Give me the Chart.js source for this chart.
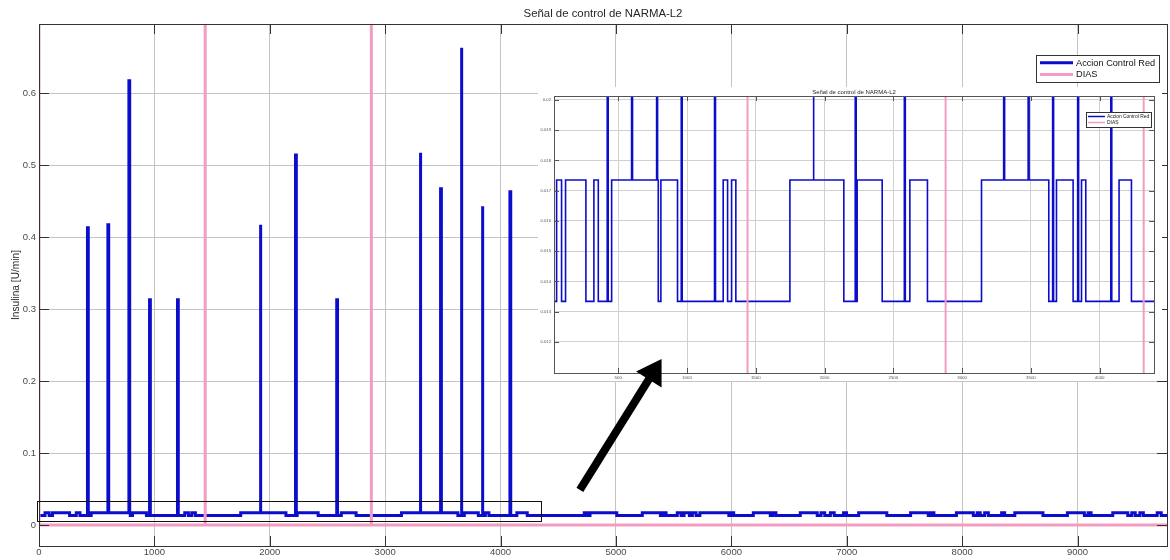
<!DOCTYPE html>
<html>
<head>
<meta charset="utf-8">
<title>Señal de control de NARMA-L2</title>
<script src="https://cdn.jsdelivr.net/npm/chart.js@4.4.0/dist/chart.umd.min.js"></script>
<style>
  body { margin: 0; background: #fff; }
  #wrap { position: relative; width: 1170px; height: 560px; overflow: hidden; }
  #main, #over { position: absolute; left: 0; top: 0; }
  #over { pointer-events: none; }
  #zoomBox { position: absolute; left: 538px; top: 87px; width: 624px; height: 294px; background: #fff; }
</style>
</head>
<body>
<div id="wrap">
  <canvas id="main" width="1170" height="560"></canvas>
  <div id="zoomBox"><canvas id="inset" width="624" height="294"></canvas></div>
  <canvas id="over" width="1170" height="560"></canvas>
</div>
<script>
// basal insulin levels of the controller output
const lowLevel = 0.01334;
const highLevel = 0.01735;

// instants where the basal level flips (starts on the low level)
const levelSwitches = [
  52, 88, 117, 265, 323, 355, 452, 791, 810, 931, 1263, 1295, 1324, 1355,
  1748, 2140, 2237, 2419, 2620, 2748, 3141, 3630, 3686, 3807, 3868, 3899,
  4141, 4231,
  4725, 4750, 4775, 5007, 5228, 5385, 5408, 5434, 5531, 5564, 5590, 5636,
  5662, 5694, 5727, 5978, 6001, 6020, 6190, 6337, 6359, 6386, 6597, 6744,
  6777, 6809, 6858, 6891, 6972, 6998, 7103, 7347, 7553, 7706, 7729, 7755,
  7950, 8097, 8130, 8156, 8195, 8227, 8342, 8368, 8456, 8700, 8912, 9059,
  9091, 9117, 9305, 9435, 9470, 9500, 9540, 9570, 9690, 9725
];

// bolus spikes: time and peak value
const doseTimes = [420, 597, 779, 958, 1200, 1916, 2223, 2580, 3302, 3480, 3658, 3840, 4081];
const dosePeaks = [0.413, 0.417, 0.617, 0.313, 0.313, 0.417, 0.514, 0.313, 0.517, 0.467, 0.663, 0.443, 0.463];
const doseWidth = 7;

// day markers
const daysMain = [0, 1440, 2880];
const daysZoom = [1440, 2880, 4320];
const dayPulse = 1;
const endTime = 9775;

// axis ticks
const xTicksMain = [0, 1000, 2000, 3000, 4000, 5000, 6000, 7000, 8000, 9000];
const yTicksMain = [0, 0.1, 0.2, 0.3, 0.4, 0.5, 0.6];
const xTicksZoom = [500, 1000, 1500, 2000, 2500, 3000, 3500, 4000];
const yTicksZoom = [0.012, 0.013, 0.014, 0.015, 0.016, 0.017, 0.018, 0.019, 0.02];

const BLUE = '#0c0ccc';
const PINK = '#f29cc2';
const FONT = '"Liberation Sans", Arial, sans-serif';

function buildControl() {
  const events = [];
  levelSwitches.forEach(t => events.push({ t, kind: 'switch' }));
  doseTimes.forEach((t, i) => events.push({ t, kind: 'dose', peak: dosePeaks[i] }));
  events.sort((a, b) => a.t - b.t);
  let level = lowLevel;
  const pts = [{ x: 0, y: level }];
  events.forEach(e => {
    if (e.kind === 'switch') {
      const next = level === lowLevel ? highLevel : lowLevel;
      pts.push({ x: e.t, y: level }, { x: e.t, y: next });
      level = next;
    } else {
      pts.push({ x: e.t, y: level }, { x: e.t, y: e.peak },
               { x: e.t + doseWidth, y: e.peak }, { x: e.t + doseWidth, y: level });
    }
  });
  pts.push({ x: endTime, y: level });
  return pts;
}

function buildDays(marks) {
  const pts = [];
  marks.forEach(m => pts.push({ x: m, y: 0 }, { x: m, y: dayPulse }, { x: m, y: 0 }));
  pts.push({ x: endTime, y: 0 });
  return pts;
}

// axes box with inward ticks, matlab style
const frameTicks = {
  id: 'frameTicks',
  afterDatasetsDraw(chart, args, o) {
    const { ctx, chartArea: a } = chart;
    const sx = chart.scales.x, sy = chart.scales.y;
    ctx.save();
    ctx.strokeStyle = o.color;
    ctx.lineWidth = 1;
    ctx.beginPath();
    sx.ticks.forEach(t => {
      const px = Math.round(sx.getPixelForValue(t.value)) + 0.5;
      ctx.moveTo(px, a.bottom); ctx.lineTo(px, a.bottom - o.len);
      ctx.moveTo(px, a.top); ctx.lineTo(px, a.top + o.len);
    });
    sy.ticks.forEach(t => {
      const py = Math.round(sy.getPixelForValue(t.value)) + 0.5;
      ctx.moveTo(a.left, py); ctx.lineTo(a.left + o.len, py);
      ctx.moveTo(a.right, py); ctx.lineTo(a.right - o.len, py);
    });
    ctx.stroke();
    ctx.strokeRect(Math.round(a.left) + 0.5, Math.round(a.top) + 0.5,
                   Math.round(a.right - a.left), Math.round(a.bottom - a.top));
    ctx.restore();
  }
};

// legend drawn as a framed box inside the plot, top right
const boxLegend = {
  id: 'boxLegend',
  afterDraw(chart, args, o) {
    const { ctx, chartArea: a } = chart;
    const ds = chart.data.datasets;
    ctx.save();
    ctx.font = o.size + 'px ' + FONT;
    const textW = Math.max(...ds.map(d => ctx.measureText(d.label).width));
    const w = o.padX * 2 + o.lineLen + o.gap + textW;
    const h = o.padY * 2 + ds.length * o.rowH;
    const x = Math.round(a.right - o.right - w), y = Math.round(a.top + o.top);
    ctx.fillStyle = '#fff';
    ctx.fillRect(x, y, w, h);
    ctx.strokeStyle = '#333';
    ctx.lineWidth = 1;
    ctx.strokeRect(x + 0.5, y + 0.5, Math.round(w), Math.round(h));
    ds.forEach((d, i) => {
      const cy = y + o.padY + o.rowH * (i + 0.5);
      ctx.strokeStyle = d.borderColor;
      ctx.lineWidth = o.lineW;
      ctx.beginPath();
      ctx.moveTo(x + o.padX, cy);
      ctx.lineTo(x + o.padX + o.lineLen, cy);
      ctx.stroke();
      ctx.fillStyle = '#111';
      ctx.textBaseline = 'middle';
      ctx.fillText(d.label, x + o.padX + o.lineLen + o.gap, cy + 0.5);
    });
    ctx.restore();
  }
};

function fixedTicks(list) {
  return scale => { scale.ticks = list.map(v => ({ value: v })); };
}

const controlPts = buildControl();

const mainChart = new Chart(document.getElementById('main'), {
  type: 'line',
  data: {
    datasets: [
      { label: 'Accion Control Red', data: controlPts, borderColor: BLUE, borderWidth: 3, pointRadius: 0, order: 1 },
      { label: 'DIAS', data: buildDays(daysMain), borderColor: PINK, borderWidth: 3, pointRadius: 0, order: 0 }
    ]
  },
  options: {
    responsive: false, animation: false, devicePixelRatio: 1,
    layout: { padding: { left: 0, right: 3, top: 0, bottom: 0 } },
    elements: { line: { tension: 0, borderJoinStyle: 'miter' } },
    plugins: {
      legend: { display: false },
      tooltip: { enabled: false },
      title: {
        display: true, fullSize: false, text: 'Señal de control de NARMA-L2', color: '#262626',
        font: { family: FONT, size: 11.4, weight: 'normal' }, padding: { top: 7, bottom: 3.3 }
      },
      frameTicks: { color: '#333', len: 10 },
      boxLegend: { size: 9.2, padX: 4, padY: 2, rowH: 11.6, lineLen: 33, gap: 3, lineW: 3, right: 8, top: 31 }
    },
    scales: {
      x: {
        type: 'linear', min: 0, max: endTime,
        afterBuildTicks: fixedTicks(xTicksMain),
        afterFit: s => { s.height = 14; },
        grid: { color: '#c4c4c4', drawTicks: false },
        border: { display: false },
        ticks: { padding: 1, color: '#4a4a4a', font: { family: FONT, size: 9.5 }, maxRotation: 0, autoSkip: false, callback: v => String(v) }
      },
      y: {
        type: 'linear', min: -0.029, max: 0.696,
        afterBuildTicks: fixedTicks(yTicksMain),
        afterFit: s => { s.width = 39; },
        grid: { color: '#c4c4c4', drawTicks: false },
        border: { display: false },
        ticks: { padding: 3, color: '#4a4a4a', font: { family: FONT, size: 9.5 }, callback: v => String(+v.toFixed(3)) },
        title: { display: true, text: 'Insulina [U/min]', color: '#262626', font: { family: FONT, size: 10.2 }, padding: { top: 10.5, bottom: 0 } }
      }
    }
  },
  plugins: [frameTicks, boxLegend]
});

new Chart(document.getElementById('inset'), {
  type: 'line',
  data: {
    datasets: [
      { label: 'Accion Control Red', data: controlPts, borderColor: BLUE, borderWidth: 1.6, pointRadius: 0, order: 1 },
      { label: 'DIAS', data: buildDays(daysZoom), borderColor: PINK, borderWidth: 2, pointRadius: 0, order: 0 }
    ]
  },
  options: {
    responsive: false, animation: false, devicePixelRatio: 1,
    layout: { padding: { left: 0, right: 8, top: 0, bottom: 0 } },
    elements: { line: { tension: 0, borderJoinStyle: 'miter' } },
    plugins: {
      legend: { display: false },
      tooltip: { enabled: false },
      title: {
        display: true, fullSize: false, text: 'Señal de control de NARMA-L2', color: '#262626',
        font: { family: FONT, size: 6, weight: 'normal' }, padding: { top: 1.5, bottom: 0.3 }
      },
      frameTicks: { color: '#555', len: 5 },
      boxLegend: { size: 4.9, padX: 2, padY: 1.5, rowH: 6, lineLen: 17, gap: 2, lineW: 1.5, right: 3, top: 16 }
    },
    scales: {
      x: {
        type: 'linear', min: 33, max: 4395,
        afterBuildTicks: fixedTicks(xTicksZoom),
        afterFit: s => { s.height = 8; },
        grid: { color: '#d0d0d0', drawTicks: false },
        border: { display: false },
        ticks: { padding: 2, color: '#555', font: { family: FONT, size: 4.4 }, maxRotation: 0, autoSkip: false, callback: v => String(v) }
      },
      y: {
        type: 'linear', min: 0.01097, max: 0.02013,
        afterBuildTicks: fixedTicks(yTicksZoom),
        afterFit: s => { s.width = 16; },
        grid: { color: '#d0d0d0', drawTicks: false },
        border: { display: false },
        ticks: { padding: 3, color: '#555', font: { family: FONT, size: 4.2 }, callback: v => String(+v.toFixed(3)) }
      }
    }
  },
  plugins: [frameTicks, boxLegend]
});

// zoom window frame on the main axes and the arrow pointing at the enlarged view
(function drawCallout(chart) {
  const ctx = document.getElementById('over').getContext('2d');
  const sx = chart.scales.x, sy = chart.scales.y;
  const px = v => sx.getPixelForValue(v), py = v => sy.getPixelForValue(v);

  const x0 = Math.round(px(-17)) + 0.5, x1 = Math.round(px(4350)) + 0.5;
  const y0 = Math.round(py(0.034)) + 0.5, y1 = Math.round(py(0.0055)) + 0.5;
  ctx.strokeStyle = '#111';
  ctx.lineWidth = 1;
  ctx.strokeRect(x0, y0, x1 - x0, y1 - y0);

  const tx = px(4687), ty = py(0.049);
  const hx = px(5395), hy = py(0.2306);
  const ang = Math.atan2(hy - ty, hx - tx);
  const headLen = 24, headHalf = 15, shaft = 8;
  const bx = hx - headLen * Math.cos(ang), by = hy - headLen * Math.sin(ang);
  ctx.strokeStyle = '#000';
  ctx.lineWidth = shaft;
  ctx.beginPath();
  ctx.moveTo(tx, ty);
  ctx.lineTo(bx + 2 * Math.cos(ang), by + 2 * Math.sin(ang));
  ctx.stroke();
  ctx.fillStyle = '#000';
  ctx.beginPath();
  ctx.moveTo(hx, hy);
  ctx.lineTo(bx + headHalf * Math.sin(ang), by - headHalf * Math.cos(ang));
  ctx.lineTo(bx - headHalf * Math.sin(ang), by + headHalf * Math.cos(ang));
  ctx.closePath();
  ctx.fill();
})(mainChart);
</script>
</body>
</html>
